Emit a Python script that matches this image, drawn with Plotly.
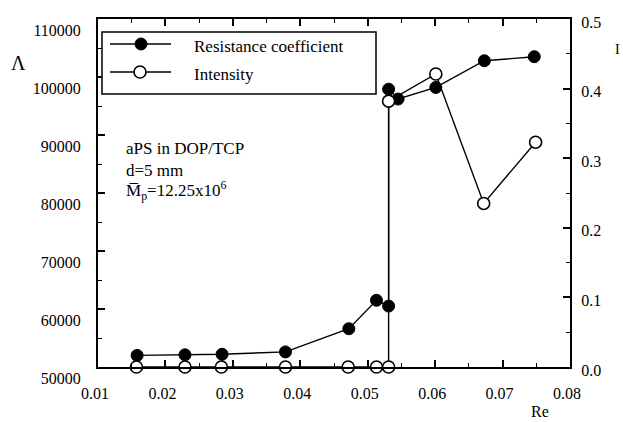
import plotly.graph_objects as go

# Resistance coefficient (left axis) versus Re
re_res = [0.0158, 0.0229, 0.0284, 0.0378, 0.0472, 0.0513, 0.0531, 0.0531, 0.0545, 0.0601, 0.0673, 0.0747]
resistance = [52000, 52100, 52200, 52600, 56600, 61500, 60500, 97900, 96200, 98200, 102800, 103500]

# Intensity (right axis) versus Re
re_int = [0.0157, 0.0229, 0.0283, 0.0378, 0.0471, 0.0513, 0.0531, 0.0531, 0.0601, 0.0672, 0.0749]
intensity = [0.0, 0.0, 0.0, 0.0, 0.0, 0.0, 0.0, 0.382, 0.421, 0.235, 0.323]

x_ticks = [0.01, 0.02, 0.03, 0.04, 0.05, 0.06, 0.07, 0.08]
y_ticks = [50000, 60000, 70000, 80000, 90000, 100000, 110000]
y2_ticks = [0.0, 0.1, 0.2, 0.3, 0.4, 0.5]

FONT = "Liberation Serif"
W, H = 623, 422
L, R, T, B = 98, 570, 19, 367


def px(x):
    return (x - L) / (R - L)


def py(y):
    return (B - y) / (B - T)


fig = go.Figure()

fig.add_trace(go.Scatter(
    x=re_res, y=resistance, mode="lines+markers", name="Resistance coefficient",
    line=dict(color="black", width=1.4),
    marker=dict(symbol="circle", size=12, color="black", line=dict(color="black", width=1)),
    cliponaxis=False, showlegend=False,
))
fig.add_trace(go.Scatter(
    x=re_int, y=intensity, mode="lines+markers", name="Intensity", yaxis="y2",
    line=dict(color="black", width=1.4),
    marker=dict(symbol="circle", size=12, color="white", line=dict(color="black", width=1.6)),
    cliponaxis=False, showlegend=False,
))

tickfont = dict(family=FONT, size=16, color="black")
minor_common = dict(ticks="inside", ticklen=4, tickwidth=1.2, tickcolor="black")

fig.update_layout(
    width=W, height=H,
    margin=dict(l=L, r=W - R, t=T, b=H - B, pad=0),
    paper_bgcolor="white", plot_bgcolor="white",
    font=dict(family=FONT, color="black"),
    xaxis=dict(
        range=[0.01, 0.08], tickvals=x_ticks, ticktext=[f"{v:.2f}" for v in x_ticks],
        ticks="inside", ticklen=7, tickwidth=1.5, tickcolor="black",
        minor=dict(dtick=0.005, **minor_common),
        showline=True, linewidth=2, linecolor="black", mirror="ticks",
        showgrid=False, zeroline=False, tickfont=tickfont,
        ticklabelshift=-3, ticklabelstandoff=11,
    ),
    yaxis=dict(
        range=[50000, 110000], tickvals=y_ticks, ticktext=[str(v) for v in y_ticks],
        ticks="inside", ticklen=7, tickwidth=1.5, tickcolor="black",
        minor=dict(dtick=5000, **minor_common),
        showline=True, linewidth=2, linecolor="black",
        showgrid=False, zeroline=False, tickfont=tickfont,
        ticklabelshift=11, ticklabelstandoff=12,
    ),
    yaxis2=dict(
        range=[0, 0.5], tickvals=y2_ticks, ticktext=[f"{v:.1f}" for v in y2_ticks],
        overlaying="y", side="right",
        ticks="inside", ticklen=7, tickwidth=1.5, tickcolor="black",
        minor=dict(dtick=0.05, **minor_common),
        showline=True, linewidth=2, linecolor="black",
        showgrid=False, zeroline=False, tickfont=tickfont,
        ticklabelshift=3, ticklabelstandoff=6,
    ),
)

# Legend box drawn by hand
shapes = [
    dict(type="rect", xref="paper", yref="paper", x0=px(102), x1=px(376), y0=py(94), y1=py(32),
         line=dict(color="black", width=1.5), fillcolor="white", layer="above"),
    dict(type="line", xref="paper", yref="paper", x0=px(110), x1=px(171), y0=py(44), y1=py(44),
         line=dict(color="black", width=1.4), layer="above"),
    dict(type="line", xref="paper", yref="paper", x0=px(110), x1=px(171), y0=py(72), y1=py(72),
         line=dict(color="black", width=1.4), layer="above"),
    dict(type="circle", xref="paper", yref="paper", xsizemode="pixel", ysizemode="pixel",
         xanchor=px(141), yanchor=py(44), x0=-6, x1=6, y0=-6, y1=6,
         fillcolor="black", line=dict(color="black", width=1), layer="above"),
    dict(type="circle", xref="paper", yref="paper", xsizemode="pixel", ysizemode="pixel",
         xanchor=px(140), yanchor=py(72), x0=-6, x1=6, y0=-6, y1=6,
         fillcolor="white", line=dict(color="black", width=1.6), layer="above"),
]

ann_font = dict(family=FONT, size=17, color="black")
annotations = [
    dict(text="Resistance coefficient", x=px(192), y=py(46), xanchor="left", yanchor="middle"),
    dict(text="Intensity", x=px(192), y=py(74), xanchor="left", yanchor="middle"),
    dict(text="aPS in DOP/TCP", x=px(124), y=py(148), xanchor="left", yanchor="middle"),
    dict(text="d=5 mm", x=px(124), y=py(170), xanchor="left", yanchor="middle"),
    dict(text="M\u0305<sub>p</sub>=12.25x10<sup>6</sup>", x=px(124), y=py(191),
         xanchor="left", yanchor="middle"),
    dict(text="\u039b", x=px(18), y=py(63), xanchor="center", yanchor="middle",
         font=dict(family=FONT, size=20, color="black")),
    dict(text="I", x=px(617), y=py(50), xanchor="center", yanchor="middle",
         font=dict(family=FONT, size=14, color="black")),
    dict(text="Re", x=px(540), y=py(411), xanchor="center", yanchor="middle",
         font=dict(family=FONT, size=16, color="black")),
]
for a in annotations:
    a.setdefault("font", ann_font)
    a.update(xref="paper", yref="paper", showarrow=False)

fig.update_layout(shapes=shapes, annotations=annotations)

fig.write_html("out.html")
